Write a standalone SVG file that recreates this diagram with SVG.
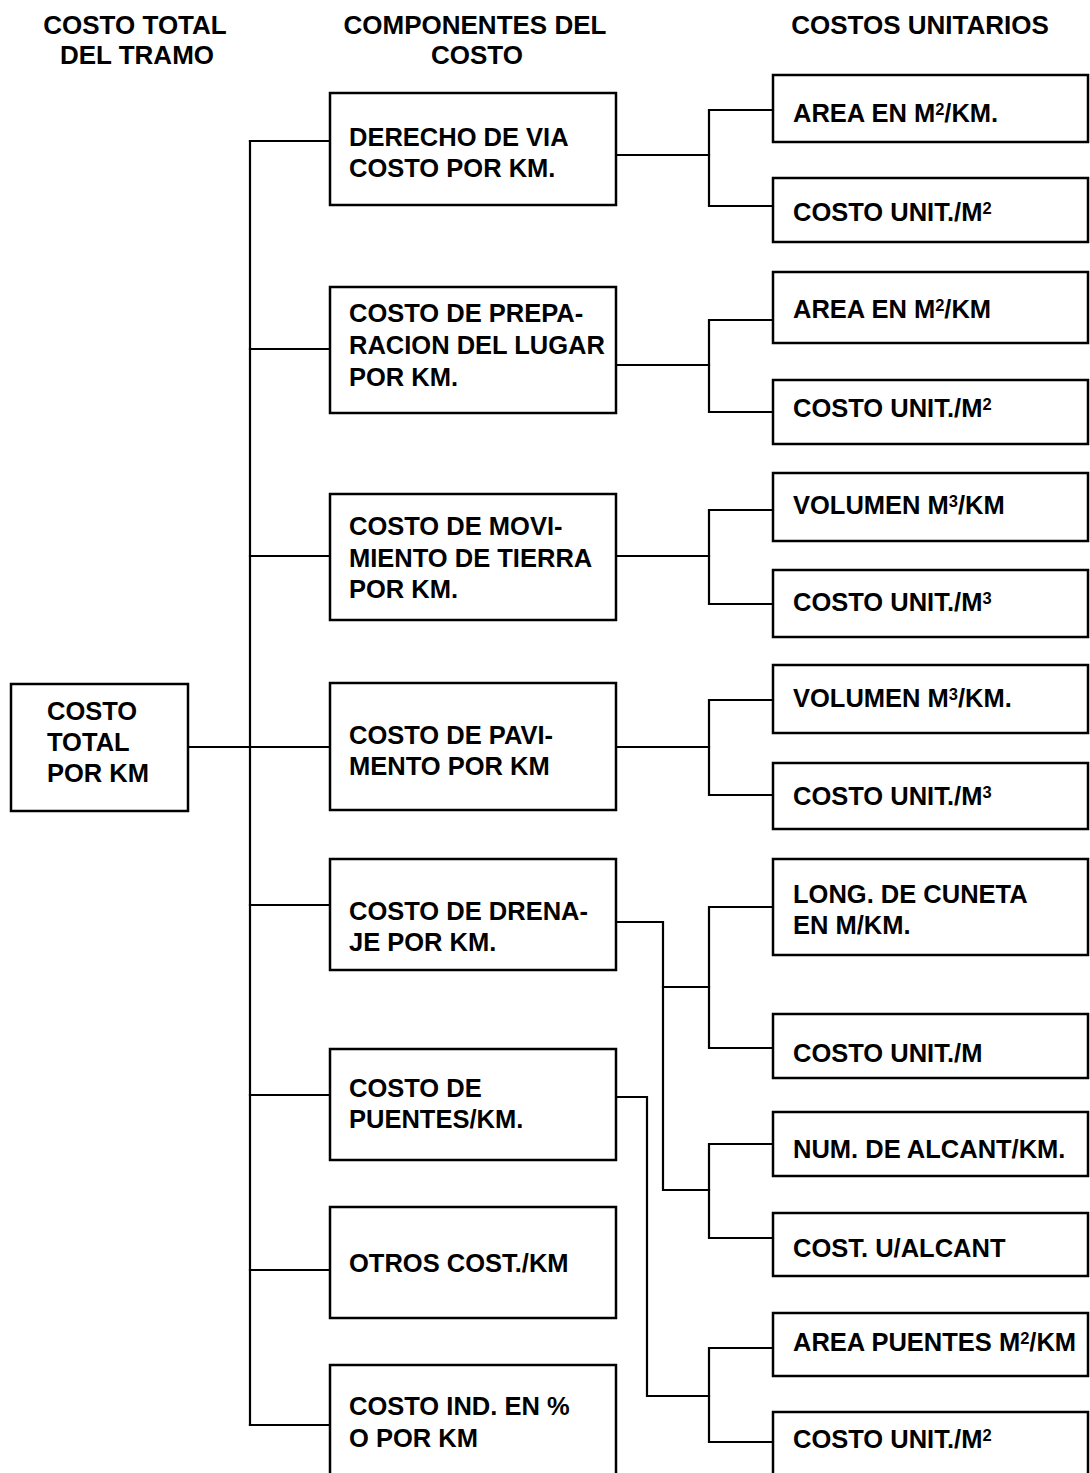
<svg xmlns="http://www.w3.org/2000/svg" width="1090" height="1473" viewBox="0 0 1090 1473">
  <style>
    .box { fill: #ffffff; stroke: #000000; stroke-width: 2.5; }
    .wire { fill: none; stroke: #000000; stroke-width: 2.2; stroke-linecap: square; }
    text { font-family: "Liberation Sans", Arial, sans-serif; font-weight: bold; fill: #000000; }
    .hdr { font-size: 26px; text-anchor: middle; }
    .lbl { font-size: 25.5px; }
    .sup { font-size: 16.5px; }
  </style>
  <rect x="0" y="0" width="1090" height="1473" fill="#ffffff"/>

  <!-- column headings -->
  <g id="headings">
    <text class="hdr" x="135" y="34">COSTO TOTAL</text>
    <text class="hdr" x="137" y="64">DEL TRAMO</text>
    <text class="hdr" x="475" y="34">COMPONENTES DEL</text>
    <text class="hdr" x="477" y="64">COSTO</text>
    <text class="hdr" x="920" y="34">COSTOS UNITARIOS</text>
  </g>

  <!-- connectors -->
  <g id="connectors" class="wire">
    <!-- trunk from total cost to the components -->
    <line x1="250" y1="141" x2="250" y2="1425"/>
    <line x1="188" y1="747" x2="330" y2="747"/>
    <line x1="250" y1="141" x2="330" y2="141"/>
    <line x1="250" y1="349" x2="330" y2="349"/>
    <line x1="250" y1="556" x2="330" y2="556"/>
    <line x1="250" y1="905" x2="330" y2="905"/>
    <line x1="250" y1="1095" x2="330" y2="1095"/>
    <line x1="250" y1="1270" x2="330" y2="1270"/>
    <line x1="250" y1="1425" x2="330" y2="1425"/>
    <!-- derecho de via -->
    <polyline points="616,155 709,155"/>
    <polyline points="773,110 709,110 709,206 773,206"/>
    <!-- preparacion del lugar -->
    <polyline points="616,365 709,365"/>
    <polyline points="773,320 709,320 709,412 773,412"/>
    <!-- movimiento de tierra -->
    <polyline points="616,556 709,556"/>
    <polyline points="773,510 709,510 709,604 773,604"/>
    <!-- pavimento -->
    <polyline points="616,747 709,747"/>
    <polyline points="773,700 709,700 709,795 773,795"/>
    <!-- drenaje -->
    <polyline points="616,922 663,922 663,1190 709,1190"/>
    <polyline points="663,987 709,987"/>
    <polyline points="773,907 709,907 709,1048 773,1048"/>
    <polyline points="773,1144 709,1144 709,1238 773,1238"/>
    <!-- puentes -->
    <polyline points="616,1097 647,1097 647,1396 709,1396"/>
    <polyline points="773,1348 709,1348 709,1442 773,1442"/>
  </g>

  <!-- total cost -->
  <g id="n-total">
    <rect class="box" x="11" y="684" width="177" height="127"/>
    <text class="lbl" x="47" y="720">COSTO</text>
    <text class="lbl" x="47" y="751">TOTAL</text>
    <text class="lbl" x="47" y="782">POR KM</text>
  </g>

  <!-- cost components -->
  <g id="n-derecho">
    <rect class="box" x="330" y="93" width="286" height="112"/>
    <text class="lbl" x="349" y="146">DERECHO DE VIA</text>
    <text class="lbl" x="349" y="177">COSTO POR KM.</text>
  </g>
  <g id="n-preparacion">
    <rect class="box" x="330" y="287" width="286" height="126"/>
    <text class="lbl" x="349" y="322">COSTO DE PREPA-</text>
    <text class="lbl" x="349" y="354">RACION DEL LUGAR</text>
    <text class="lbl" x="349" y="386">POR KM.</text>
  </g>
  <g id="n-movimiento">
    <rect class="box" x="330" y="494" width="286" height="126"/>
    <text class="lbl" x="349" y="535">COSTO DE MOVI-</text>
    <text class="lbl" x="349" y="567">MIENTO DE TIERRA</text>
    <text class="lbl" x="349" y="598">POR KM.</text>
  </g>
  <g id="n-pavimento">
    <rect class="box" x="330" y="683" width="286" height="127"/>
    <text class="lbl" x="349" y="744">COSTO DE PAVI-</text>
    <text class="lbl" x="349" y="775">MENTO POR KM</text>
  </g>
  <g id="n-drenaje">
    <rect class="box" x="330" y="859" width="286" height="111"/>
    <text class="lbl" x="349" y="920">COSTO DE DRENA-</text>
    <text class="lbl" x="349" y="951">JE POR KM.</text>
  </g>
  <g id="n-puentes">
    <rect class="box" x="330" y="1049" width="286" height="111"/>
    <text class="lbl" x="349" y="1097">COSTO DE</text>
    <text class="lbl" x="349" y="1128">PUENTES/KM.</text>
  </g>
  <g id="n-otros">
    <rect class="box" x="330" y="1207" width="286" height="111"/>
    <text class="lbl" x="349" y="1272">OTROS COST./KM</text>
  </g>
  <g id="n-indirecto">
    <rect class="box" x="330" y="1365" width="286" height="120"/>
    <text class="lbl" x="349" y="1415">COSTO IND. EN %</text>
    <text class="lbl" x="349" y="1447">O POR KM</text>
  </g>

  <!-- unit costs (exponents set as raised, smaller digits) -->
  <g id="u-area-via">
    <rect class="box" x="773" y="75" width="315" height="67"/>
    <text class="lbl" x="793" y="122">AREA EN M<tspan class="sup" dy="-7">2</tspan><tspan dy="7">/KM.</tspan></text>
  </g>
  <g id="u-costo-via">
    <rect class="box" x="773" y="178" width="315" height="64"/>
    <text class="lbl" x="793" y="221">COSTO UNIT./M<tspan class="sup" dy="-7">2</tspan></text>
  </g>
  <g id="u-area-prep">
    <rect class="box" x="773" y="272" width="315" height="71"/>
    <text class="lbl" x="793" y="318">AREA EN M<tspan class="sup" dy="-7">2</tspan><tspan dy="7">/KM</tspan></text>
  </g>
  <g id="u-costo-prep">
    <rect class="box" x="773" y="380" width="315" height="64"/>
    <text class="lbl" x="793" y="417">COSTO UNIT./M<tspan class="sup" dy="-7">2</tspan></text>
  </g>
  <g id="u-vol-tierra">
    <rect class="box" x="773" y="473" width="315" height="68"/>
    <text class="lbl" x="793" y="514">VOLUMEN M<tspan class="sup" dy="-7">3</tspan><tspan dy="7">/KM</tspan></text>
  </g>
  <g id="u-costo-tierra">
    <rect class="box" x="773" y="570" width="315" height="67"/>
    <text class="lbl" x="793" y="611">COSTO UNIT./M<tspan class="sup" dy="-7">3</tspan></text>
  </g>
  <g id="u-vol-pav">
    <rect class="box" x="773" y="665" width="315" height="68"/>
    <text class="lbl" x="793" y="707">VOLUMEN M<tspan class="sup" dy="-7">3</tspan><tspan dy="7">/KM.</tspan></text>
  </g>
  <g id="u-costo-pav">
    <rect class="box" x="773" y="763" width="315" height="66"/>
    <text class="lbl" x="793" y="805">COSTO UNIT./M<tspan class="sup" dy="-7">3</tspan></text>
  </g>
  <g id="u-cuneta">
    <rect class="box" x="773" y="859" width="315" height="96"/>
    <text class="lbl" x="793" y="903">LONG. DE CUNETA</text>
    <text class="lbl" x="793" y="934">EN M/KM.</text>
  </g>
  <g id="u-costo-cuneta">
    <rect class="box" x="773" y="1014" width="315" height="64"/>
    <text class="lbl" x="793" y="1062">COSTO UNIT./M</text>
  </g>
  <g id="u-num-alcant">
    <rect class="box" x="773" y="1112" width="315" height="64"/>
    <text class="lbl" x="793" y="1158">NUM. DE ALCANT/KM.</text>
  </g>
  <g id="u-costo-alcant">
    <rect class="box" x="773" y="1213" width="315" height="63"/>
    <text class="lbl" x="793" y="1257">COST. U/ALCANT</text>
  </g>
  <g id="u-area-puentes">
    <rect class="box" x="773" y="1313" width="315" height="63"/>
    <text class="lbl" x="793" y="1351">AREA PUENTES M<tspan class="sup" dy="-7">2</tspan><tspan dy="7">/KM</tspan></text>
  </g>
  <g id="u-costo-puentes">
    <rect class="box" x="773" y="1412" width="315" height="75"/>
    <text class="lbl" x="793" y="1448">COSTO UNIT./M<tspan class="sup" dy="-7">2</tspan></text>
  </g>
</svg>
